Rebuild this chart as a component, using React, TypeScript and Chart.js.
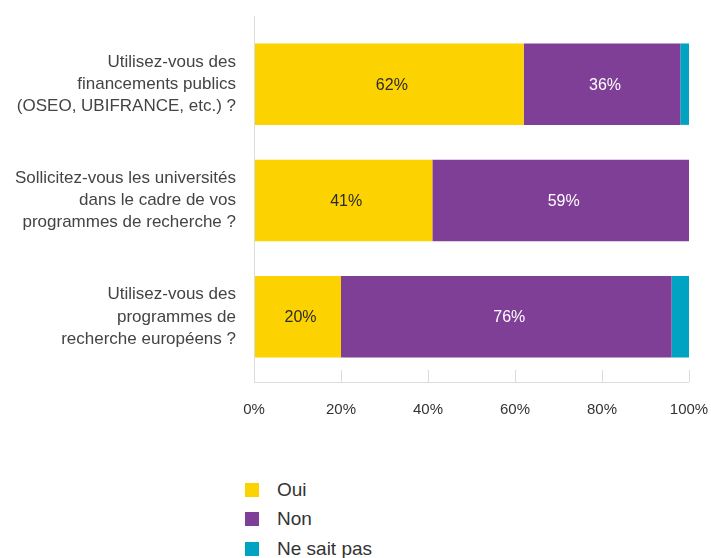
import React, { useEffect, useRef } from "react";
import { Chart, registerables } from "chart.js";

Chart.register(...registerables);

const categories: string[][] = [
  ["Utilisez-vous des", "financements publics", "(OSEO, UBIFRANCE, etc.) ?"],
  ["Sollicitez-vous les universités", "dans le cadre de vos", "programmes de recherche ?"],
  ["Utilisez-vous des", "programmes de", "recherche européens ?"],
];
const seriesNames = ["Oui", "Non", "Ne sait pas"];
const ouiValues = [62, 41, 20];
const nonValues = [36, 59, 76];
const nspValues = [2, 0, 4];
const showLabels = [true, true, false];
const xTicks = [0, 20, 40, 60, 80, 100];
const colors = ["#FCD200", "#7F3F97", "#00A3C2"];
const labelColors = ["#2b2b2b", "#ffffff", "#ffffff"];

const FONT = "'Liberation Sans', Arial, sans-serif";

const axisPlugin = {
  id: "customAxes",
  afterDraw(chart: any) {
    const { ctx, chartArea, scales } = chart;
    const x = scales.x;
    const axisY = chartArea.bottom + 7;
    ctx.save();
    ctx.strokeStyle = "#dcdcdc";
    ctx.lineWidth = 1;
    ctx.beginPath();
    ctx.moveTo(Math.round(x.left) + 0.5, chartArea.top - 10);
    ctx.lineTo(Math.round(x.left) + 0.5, axisY);
    ctx.moveTo(x.left, axisY + 0.5);
    ctx.lineTo(x.right, axisY + 0.5);
    xTicks.forEach((t) => {
      const px = Math.round(x.getPixelForValue(t)) + 0.5;
      ctx.moveTo(px, axisY - 12);
      ctx.lineTo(px, axisY);
    });
    ctx.stroke();
    ctx.restore();
  },
};

const valueLabelPlugin = {
  id: "valueLabels",
  afterDatasetsDraw(chart: any) {
    const { ctx } = chart;
    ctx.save();
    ctx.font = `16px ${FONT}`;
    ctx.textAlign = "center";
    ctx.textBaseline = "middle";
    chart.data.datasets.forEach((ds: any, di: number) => {
      if (!showLabels[di]) return;
      const meta = chart.getDatasetMeta(di);
      meta.data.forEach((bar: any, i: number) => {
        const v = ds.data[i];
        if (!v) return;
        const { x, y, base } = bar.getProps(["x", "y", "base"], true);
        ctx.fillStyle = labelColors[di];
        ctx.fillText(`${v}%`, (x + base) / 2 + 3, y + 1);
      });
    });
    ctx.restore();
  },
};

export default function App() {
  const ref = useRef<HTMLCanvasElement>(null);
  useEffect(() => {
    document.body.style.margin = "0";
    const chart = new Chart(ref.current!, {
      type: "bar",
      data: {
        labels: categories,
        datasets: [
          { label: seriesNames[0], data: ouiValues, backgroundColor: colors[0] },
          { label: seriesNames[1], data: nonValues, backgroundColor: colors[1] },
          { label: seriesNames[2], data: nspValues, backgroundColor: colors[2] },
        ],
      },
      options: {
        indexAxis: "y",
        animation: false,
        responsive: false,
        maintainAspectRatio: false,
        layout: { padding: { top: 26, right: 22, left: 0, bottom: 0 } },
        datasets: { bar: { barPercentage: 0.7, categoryPercentage: 1, borderWidth: 0 } },
        plugins: { legend: { display: false }, tooltip: { enabled: false } },
        scales: {
          x: {
            stacked: true,
            min: 0,
            max: 100,
            afterBuildTicks: (scale: any) => {
              scale.ticks = xTicks.map((v) => ({ value: v }));
            },
            afterFit: (scale: any) => {
              scale.height = 45;
              scale.paddingLeft = 0;
              scale.paddingRight = 0;
            },
            grid: { display: false, drawTicks: false },
            border: { display: false },
            ticks: {
              padding: 26,
              color: "#333",
              font: { family: FONT, size: 15 },
              callback: (v: any) => `${v}%`,
              maxRotation: 0,
            },
          },
          y: {
            stacked: true,
            afterFit: (scale: any) => {
              scale.width = 254;
              scale.paddingTop = 0;
              scale.paddingBottom = 0;
            },
            grid: { display: false, drawTicks: false },
            border: { display: false },
            ticks: {
              padding: 18,
              color: "#444",
              font: { family: FONT, size: 17, lineHeight: 1.3 },
            },
          },
        },
      },
      plugins: [axisPlugin, valueLabelPlugin],
    });
    return () => chart.destroy();
  }, []);

  return (
    <div style={{ position: "relative", width: 711, height: 558, background: "#fff" }}>
      <canvas ref={ref} width={711} height={420} style={{ position: "absolute", left: 0, top: 0 }} />
      <div style={{ position: "absolute", left: 245, top: 475, fontFamily: FONT, fontSize: 19, color: "#333" }}>
        {seriesNames.map((n, i) => (
          <div key={n} style={{ display: "flex", alignItems: "center", height: 29.5 }}>
            <span style={{ display: "inline-block", width: 14, height: 14, background: colors[i], marginRight: 18 }} />
            <span>{n}</span>
          </div>
        ))}
      </div>
    </div>
  );
}
